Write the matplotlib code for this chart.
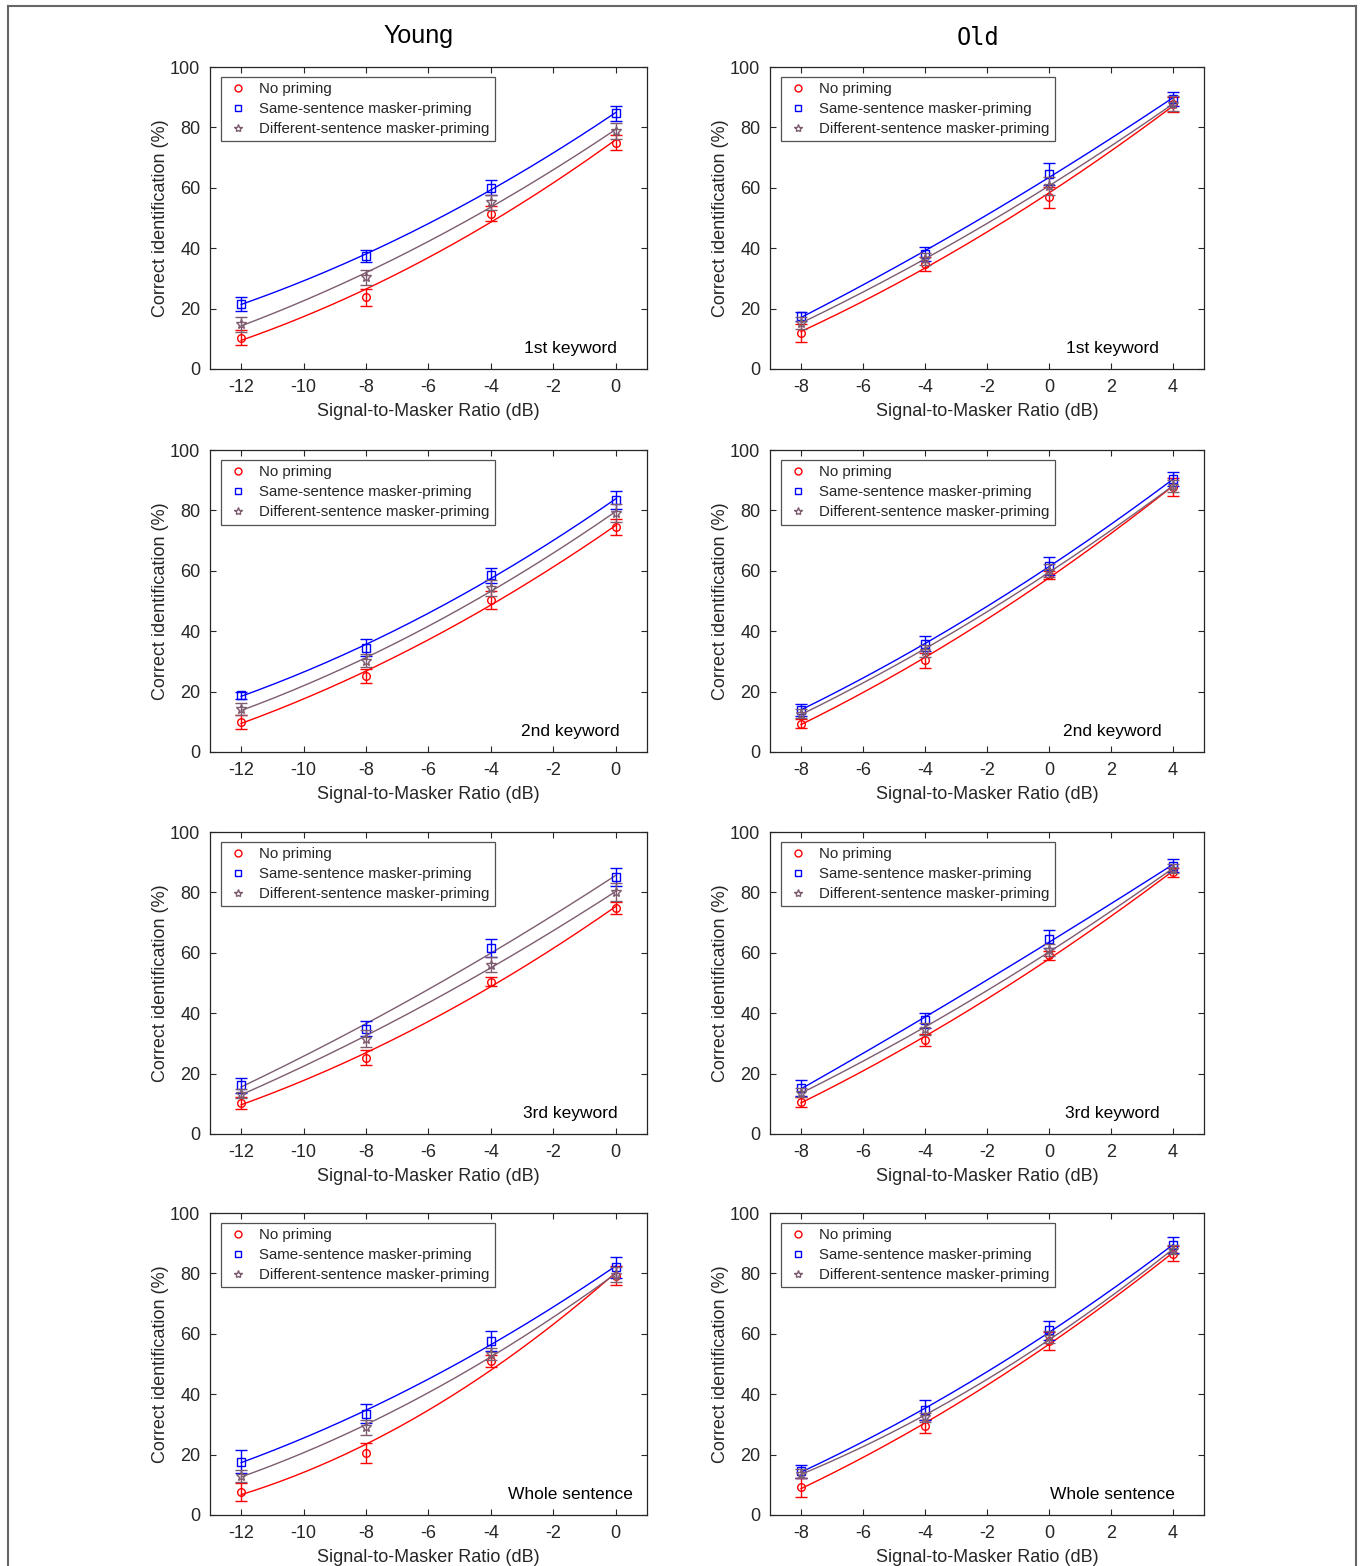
import numpy as np
import matplotlib
matplotlib.use("Agg")
import matplotlib.pyplot as plt
from matplotlib.lines import Line2D

plt.rcParams['font.family'] = ['Liberation Sans', 'DejaVu Sans']
plt.rcParams['axes.unicode_minus'] = False

# SNR levels (dB)
snr_young = [-12, -8, -4, 0]
snr_old = [-8, -4, 0, 4]

conditions = ["No priming", "Same-sentence masker-priming", "Different-sentence masker-priming"]
panel_names = ["1st keyword", "2nd keyword", "3rd keyword", "Whole sentence"]

# mean % correct, rows = panels, order per panel: no priming, same, different
young_none = [[10.4, 23.7, 51.4, 75.0], [10.0, 25.2, 50.3, 74.5], [10.2, 25.3, 50.4, 74.8], [7.7, 20.5, 50.9, 79.3]]
young_same = [[21.6, 37.4, 60.0, 84.7], [18.8, 34.6, 58.5, 83.5], [16.1, 34.9, 61.5, 85.1], [17.7, 33.6, 57.5, 82.1]]
young_diff = [[14.8, 30.3, 55.2, 78.8], [14.1, 30.2, 54.3, 79.3], [13.3, 31.6, 56.0, 80.0], [12.9, 29.0, 53.3, 79.6]]
old_none = [[11.9, 34.9, 56.8, 87.6], [9.4, 30.4, 58.6, 87.8], [10.7, 31.1, 59.2, 86.7], [9.1, 29.3, 57.7, 86.5]]
old_same = [[17.4, 38.1, 64.5, 89.5], [14.0, 35.8, 61.5, 90.3], [15.3, 37.6, 64.6, 88.9], [14.4, 34.7, 61.1, 89.3]]
old_diff = [[15.2, 36.5, 60.6, 87.8], [12.6, 33.6, 60.1, 88.0], [13.7, 34.8, 60.9, 87.8], [13.7, 32.3, 58.8, 87.8]]

# standard errors
young_none_err = [[2.4, 2.9, 2.5, 2.5], [2.3, 2.3, 3.0, 2.7], [2.0, 2.5, 1.5, 2.0], [3.0, 3.3, 2.0, 3.0]]
young_same_err = [[2.3, 2.0, 2.5, 2.5], [1.2, 2.7, 2.5, 3.0], [2.5, 2.5, 3.0, 3.0], [3.7, 3.0, 3.3, 3.5]]
young_diff_err = [[2.5, 2.5, 2.5, 2.5], [2.0, 2.2, 2.5, 3.0], [1.5, 2.7, 2.5, 3.0], [2.0, 2.5, 2.0, 2.5]]
old_none_err = [[3.0, 2.3, 3.5, 2.5], [1.5, 2.5, 1.3, 3.0], [1.7, 2.0, 1.5, 1.5], [3.0, 2.3, 3.0, 2.5]]
old_same_err = [[1.5, 2.3, 3.7, 2.3], [2.0, 2.5, 3.0, 2.3], [2.7, 2.5, 3.0, 2.0], [2.0, 3.3, 3.3, 2.7]]
old_diff_err = [[2.0, 2.0, 3.0, 2.5], [1.5, 2.0, 2.0, 2.0], [1.5, 2.0, 2.0, 1.5], [1.5, 1.5, 2.0, 1.5]]

RED = "#ff0000"
BLUE = "#0000ff"
PURPLE = "#7d5c70"
colors = [RED, BLUE, PURPLE]
markers = ["o", "s", "*"]
INK = "#262626"


def quad_fit(x, y):
    # second-order polynomial fit through the four means
    c = np.polyfit(x, y, 2)
    xx = np.linspace(min(x), max(x), 200)
    return xx, np.polyval(c, xx)


fig = plt.figure(figsize=(13.6, 15.66), dpi=100)

lefts = [0.1544, 0.5662]
widths = [0.3213, 0.3191]
bottoms = [0.7644, 0.5198, 0.2759, 0.0326]
height = 0.1928
xlims = [(-13, 1), (-9, 5)]
label_x = [0.824, 0.788]

groups = [
    (snr_young, [young_none, young_same, young_diff], [young_none_err, young_same_err, young_diff_err]),
    (snr_old, [old_none, old_same, old_diff], [old_none_err, old_same_err, old_diff_err]),
]

for col, (snr, series, errs) in enumerate(groups):
    for row in range(4):
        ax = fig.add_axes([lefts[col], bottoms[row], widths[col], height])
        for k in range(3):
            y = series[k][row]
            e = errs[k][row]
            lc = colors[k]
            if col == 0 and row == 2 and k == 1:
                lc = PURPLE  # fit line drawn in purple in the original
            xx, yy = quad_fit(snr, y)
            ax.plot(xx, yy, color=lc, lw=1.0)
            ax.errorbar(snr, y, yerr=e, fmt="none", ecolor=colors[k], elinewidth=1.0,
                        capsize=4.5, capthick=1.0)
            ax.plot(snr, y, linestyle="none", marker=markers[k], mfc="none", mec=colors[k],
                    ms=7 if k == 2 else 5.5, mew=1.0)
        ax.set_xlim(*xlims[col])
        ax.set_ylim(0, 100)
        ax.set_xticks(np.arange(xlims[col][0] + 1, xlims[col][1], 2))
        ax.set_yticks(np.arange(0, 101, 20))
        ax.tick_params(direction="in", top=True, right=True, length=4, width=0.8,
                       labelsize=13, colors=INK, pad=7)
        for s in ax.spines.values():
            s.set_color(INK)
            s.set_linewidth(0.9)
        ax.set_xlabel("Signal-to-Masker Ratio (dB)", fontsize=13, color=INK, labelpad=5)
        ax.set_ylabel("Correct identification (%)", fontsize=13, color=INK, labelpad=1)
        ax.text(label_x[col], 0.068, panel_names[row], transform=ax.transAxes,
                ha="center", va="center", fontsize=12.5, color="black")
        handles = [Line2D([], [], linestyle="none", marker=markers[k], mfc="none", mec=colors[k],
                          ms=6 if k == 2 else 5, mew=1.0) for k in range(3)]
        leg = ax.legend(handles, conditions, loc="upper left", bbox_to_anchor=(0.025, 0.967),
                        borderaxespad=0, fontsize=10.8, frameon=True, fancybox=False,
                        handlelength=1.6, handletextpad=0.6, labelspacing=0.4, borderpad=0.35)
        leg.get_frame().set_edgecolor(INK)
        leg.get_frame().set_linewidth(0.9)
        for t in leg.get_texts():
            t.set_color(INK)

fig.text(0.3074, 0.977, "Young", ha="center", va="center", fontsize=18)
fig.text(0.719, 0.9757, "Old", ha="center", va="center", fontsize=17,
         family=["DejaVu Sans Mono"])

# outer frame
fig.add_artist(plt.Line2D([8 / 1360, 8 / 1360], [1 - 6 / 1566, 0.0], color="#666666", lw=1.5))
fig.add_artist(plt.Line2D([8 / 1360, 1356 / 1360], [1 - 6 / 1566, 1 - 6 / 1566], color="#666666", lw=1.5))
fig.add_artist(plt.Line2D([1356 / 1360, 1356 / 1360], [1 - 6 / 1566, 0.0], color="#666666", lw=1.5))

fig.savefig("out.png", dpi=100)
